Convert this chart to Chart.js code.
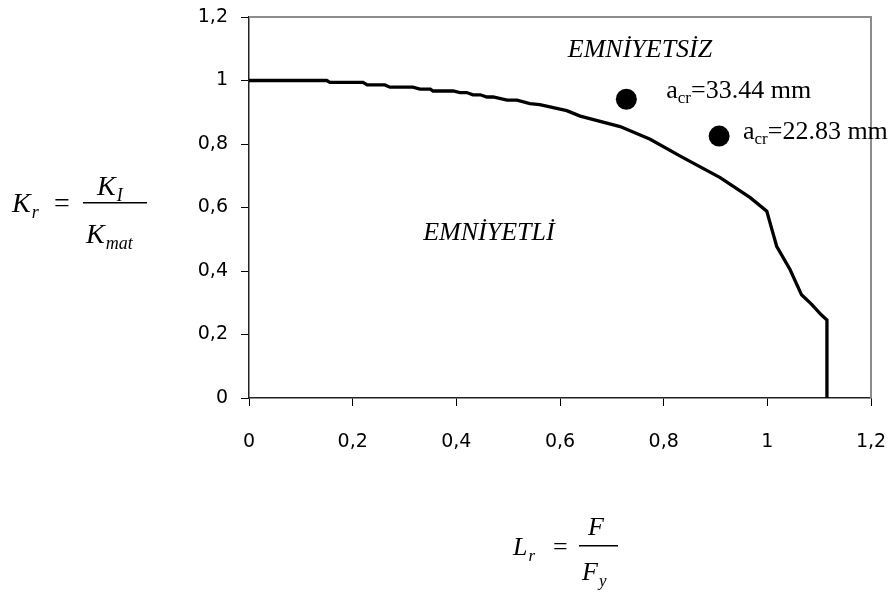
<!DOCTYPE html>
<html>
<head>
<meta charset="utf-8">
<script src="https://cdn.jsdelivr.net/npm/chart.js@4.4.1/dist/chart.umd.min.js"></script>
<style>
  html, body { margin: 0; padding: 0; background: #fff; }
  #wrap { width: 893px; height: 592px; }
</style>
</head>
<body>
<div id="wrap"><canvas id="myChart" width="893" height="592"></canvas></div>
<script>
// DATA
var curveLr = [0, 0.15, 0.156, 0.22, 0.228, 0.262, 0.272, 0.316, 0.33, 0.35, 0.355, 0.394,
    0.407, 0.42, 0.432, 0.446, 0.459, 0.471, 0.498, 0.517, 0.542, 0.561, 0.613, 0.639,
    0.716, 0.774, 0.832, 0.909, 0.967, 0.999, 1.005, 1.018, 1.044, 1.066, 1.086, 1.104, 1.115, 1.115];
var curveKr = [1, 1, 0.994, 0.994, 0.986, 0.986, 0.979, 0.979, 0.973, 0.973, 0.967, 0.967,
    0.962, 0.962, 0.955, 0.955, 0.948, 0.948, 0.938, 0.938, 0.927, 0.924, 0.905, 0.888,
    0.855, 0.815, 0.762, 0.694, 0.631, 0.588, 0.553, 0.478, 0.404, 0.325, 0.294, 0.262, 0.246, 0];

var pointLr = [0.728, 0.907];
var pointKr = [0.941, 0.825];
var pointNames = ['33.44 mm', '22.83 mm'];

var xTickLabels = ['0', '0,2', '0,4', '0,6', '0,8', '1', '1,2'];
var yTickLabels = ['0', '0,2', '0,4', '0,6', '0,8', '1', '1,2'];

var curveData = curveLr.map(function (x, i) { return { x: x, y: curveKr[i] }; });
var pointData = pointLr.map(function (x, i) { return { x: x, y: pointKr[i] }; });

// text helpers
function drawSub(ctx, base, sub, x, y, size, subSize, italicSub) {
    ctx.font = 'italic ' + size + 'px "Liberation Serif"';
    ctx.fillText(base, x, y);
    var w = ctx.measureText(base).width;
    ctx.font = (italicSub ? 'italic ' : '') + subSize + 'px "Liberation Serif"';
    ctx.fillText(sub, x + w + 1, y + size * 0.22);
    return x + w + 1 + ctx.measureText(sub).width;
}

var decorations = {
    id: 'decorations',
    beforeDatasetsDraw: function (chart) {
        var a = chart.chartArea, ctx = chart.ctx;
        ctx.save();
        ctx.strokeStyle = '#8c8c8c';
        ctx.lineWidth = 2;
        ctx.beginPath();
        ctx.moveTo(a.left, a.top);
        ctx.lineTo(a.right, a.top);
        ctx.lineTo(a.right, a.bottom);
        ctx.stroke();
        ctx.restore();
    },
    afterDraw: function (chart) {
        var ctx = chart.ctx, xs = chart.scales.x, ys = chart.scales.y;
        ctx.save();
        ctx.fillStyle = '#000';
        ctx.textBaseline = 'alphabetic';
        ctx.textAlign = 'left';

        // region names
        ctx.font = 'italic 26px "Liberation Serif"';
        ctx.fillText('EMNİYETSİZ', xs.getPixelForValue(0.615), ys.getPixelForValue(1.075));
        ctx.fillText('EMNİYETLİ', xs.getPixelForValue(0.336), ys.getPixelForValue(0.499));

        // point labels
        var offsets = [[0.077, 0.003], [0.046, -0.010]];
        for (var i = 0; i < pointLr.length; i++) {
            var px = xs.getPixelForValue(pointLr[i] + offsets[i][0]);
            var py = ys.getPixelForValue(pointKr[i] + offsets[i][1]);
            ctx.font = '26px "Liberation Serif"';
            ctx.fillText('a', px, py);
            var w = ctx.measureText('a').width;
            ctx.font = '17px "Liberation Serif"';
            ctx.fillText('cr', px + w, py + 5);
            var w2 = ctx.measureText('cr').width;
            ctx.font = '26px "Liberation Serif"';
            ctx.fillText('=' + pointNames[i], px + w + w2, py);
        }

        // y axis title: Kr = KI / Kmat
        drawSub(ctx, 'K', 'r', 12, 212, 28, 18, true);
        ctx.font = '28px "Liberation Serif"';
        ctx.fillText('=', 54, 212);
        ctx.fillRect(83, 202, 64, 1.5);
        drawSub(ctx, 'K', 'I', 97, 195, 28, 18, true);
        drawSub(ctx, 'K', 'mat', 86, 243, 28, 18, true);

        // x axis title: Lr = F / Fy
        drawSub(ctx, 'L', 'r', 513, 555, 26, 17, true);
        ctx.font = '26px "Liberation Serif"';
        ctx.fillText('=', 553, 555);
        ctx.fillRect(579, 545, 39, 1.5);
        ctx.font = 'italic 26px "Liberation Serif"';
        ctx.fillText('F', 588, 535);
        drawSub(ctx, 'F', 'y', 582, 580, 26, 17, true);
        ctx.restore();
    }
};

var ctx = document.getElementById('myChart').getContext('2d');
var chart = new Chart(ctx, {
    type: 'scatter',
    data: {
        datasets: [{
            label: 'curve',
            data: curveData,
            showLine: true,
            borderColor: '#000',
            borderWidth: 3.3,
            pointRadius: 0,
            tension: 0,
            fill: false
        }, {
            label: 'acr',
            data: pointData,
            showLine: false,
            pointRadius: 10.5,
            pointBackgroundColor: '#000',
            pointBorderColor: '#000',
            pointBorderWidth: 0
        }]
    },
    options: {
        responsive: false,
        animation: false,
        devicePixelRatio: 1,
        layout: { padding: { top: 17, right: 22, left: 0, bottom: 0 } },
        plugins: { legend: { display: false }, tooltip: { enabled: false } },
        scales: {
            x: {
                type: 'linear',
                min: 0, max: 1.2,
                afterFit: function (s) {
                    s.height = 194;
                    s.paddingLeft = 0;
                    s.paddingRight = 0;
                },
                ticks: {
                    stepSize: 0.2,
                    padding: 25,
                    color: '#000',
                    font: { family: 'DejaVu Sans', size: 19 },
                    callback: function (v, i) { return xTickLabels[i]; }
                },
                grid: { drawOnChartArea: false, drawTicks: true, tickLength: 8, color: '#000' },
                border: { display: true, color: '#222', width: 1.5 }
            },
            y: {
                type: 'linear',
                min: 0, max: 1.2,
                afterFit: function (s) {
                    s.width = 249;
                    s.paddingTop = 0;
                    s.paddingBottom = 0;
                },
                ticks: {
                    stepSize: 0.2,
                    padding: 13,
                    color: '#000',
                    font: { family: 'DejaVu Sans', size: 19 },
                    callback: function (v, i) { return yTickLabels[i]; }
                },
                grid: { drawOnChartArea: false, drawTicks: true, tickLength: 8, color: '#000' },
                border: { display: true, color: '#222', width: 1.5 }
            }
        }
    },
    plugins: [decorations]
});
</script>
</body>
</html>
